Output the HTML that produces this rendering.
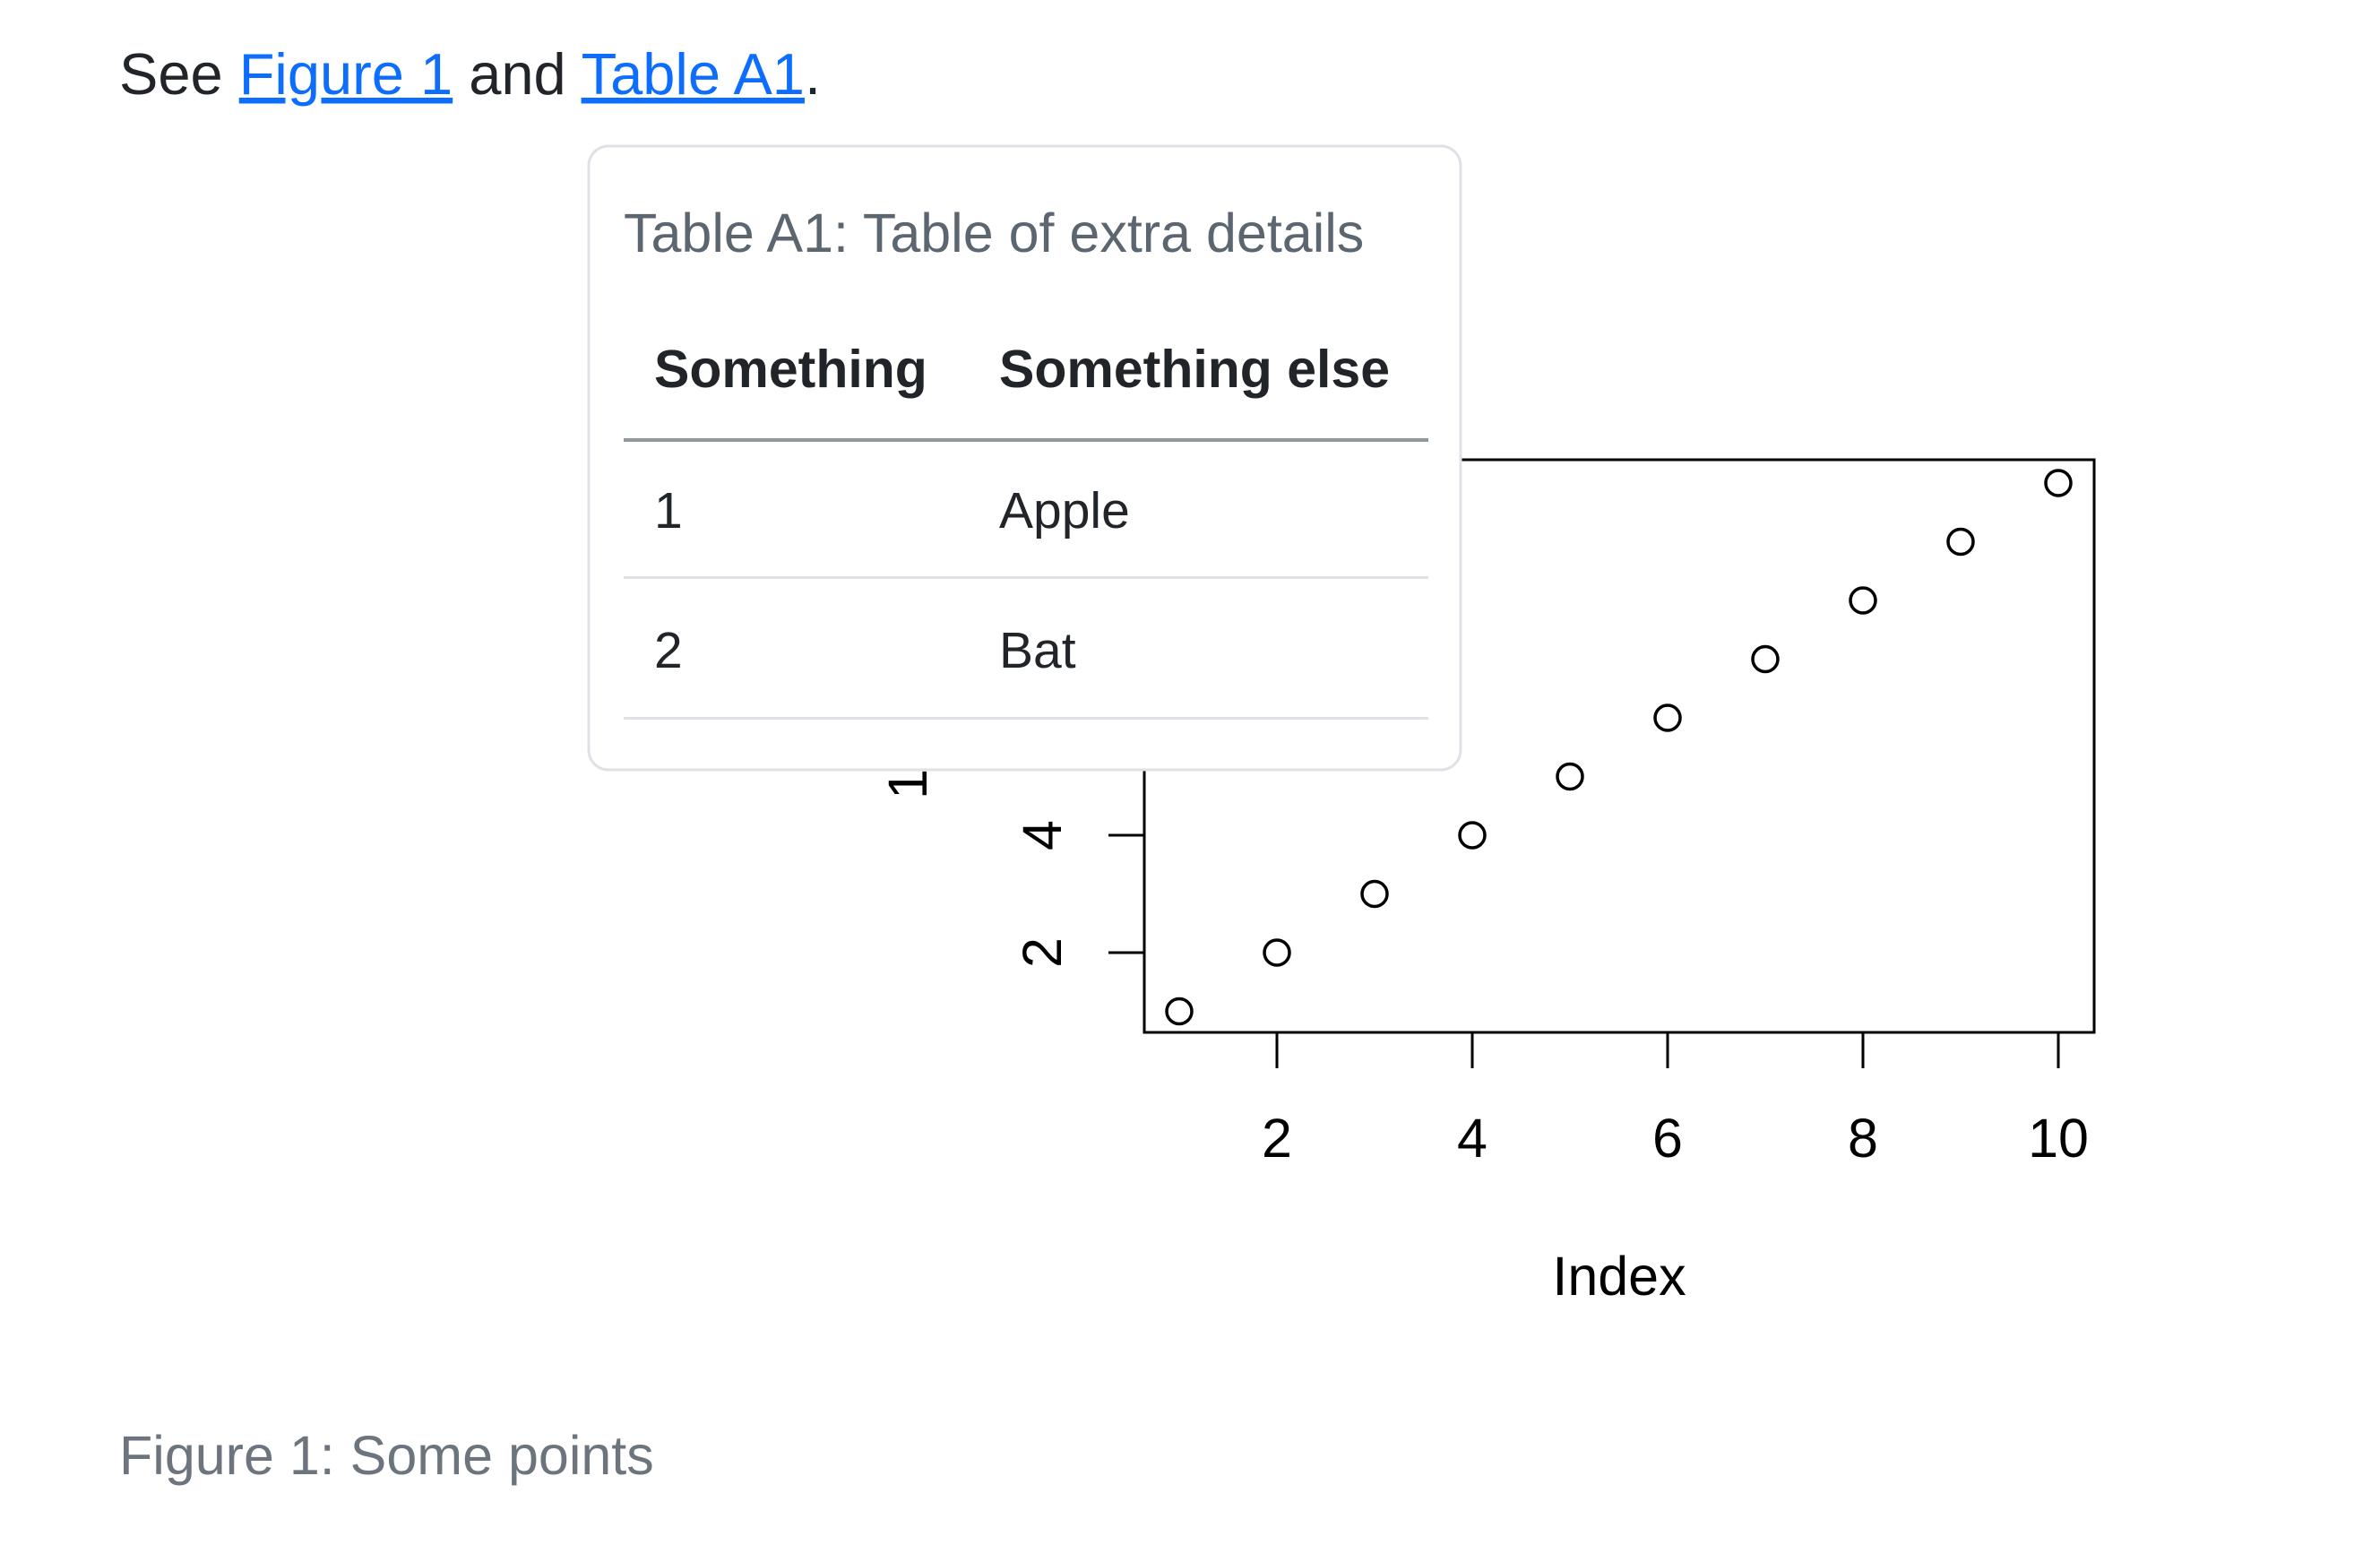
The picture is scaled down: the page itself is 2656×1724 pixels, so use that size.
<!DOCTYPE html>
<html><head><meta charset="utf-8"><style>
html,body{margin:0;padding:0;background:#fff;}
svg{display:block;}
text{font-family:"Liberation Sans",Arial,sans-serif;}
</style></head><body>
<svg id="root" width="2656" height="1724" viewBox="0 0 2656 1724">
 <g>
  <text x="133" y="105" font-size="65" fill="#212529"><tspan>See </tspan><tspan fill="#0d6efd" text-decoration="underline">Figure 1</tspan><tspan> and </tspan><tspan fill="#0d6efd" text-decoration="underline">Table A1</tspan><tspan>.</tspan></text>
 </g>
 <g id="chart"></g>
 <text x="133" y="1645" font-size="61" fill="#6c757d">Figure 1: Some points</text>
 <g>
  <rect x="657" y="163" width="973" height="696" rx="22" fill="#fff" stroke="#dee2e6" stroke-width="3"/>
  <text x="696" y="281" font-size="61" fill="#5c6670">Table A1: Table of extra details</text>
  <text x="730" y="432" font-size="59" font-weight="bold" fill="#212529">Something</text>
  <text x="1115" y="432" font-size="59" font-weight="bold" fill="#212529">Something else</text>
  <rect x="696" y="489" width="898" height="4" fill="#8f979f"/>
  <text x="730" y="589" font-size="57" fill="#212529">1</text>
  <text x="1115" y="589" font-size="57" fill="#212529">Apple</text>
  <rect x="696" y="643" width="898" height="3" fill="#dee2e6"/>
  <text x="730" y="745" font-size="57" fill="#212529">2</text>
  <text x="1115" y="745" font-size="57" fill="#212529">Bat</text>
  <rect x="696" y="800" width="898" height="3" fill="#dee2e6"/>
 </g>
</svg>
<script>
const xValues=[1,2,3,4,5,6,7,8,9,10];
const yValues=[1,2,3,4,5,6,7,8,9,10];
const xTicks=[2,4,6,8,10];
const yTicks=[2,4,6,8,10];
const NS='http://www.w3.org/2000/svg';
const g=document.getElementById('chart');
const L=1277,R=2337,T=513,B=1152;
function sx(v){return 1316+(v-1)*109.0;}
function sy(v){return 1128.5-(v-1)*65.5;}
function mk(t,a){const e=document.createElementNS(NS,t);for(const k in a)e.setAttribute(k,a[k]);g.appendChild(e);return e;}
let e=mk('rect',{x:L,y:T,width:R-L,height:B-T,fill:'none',stroke:'#000','stroke-width':3});


xTicks.forEach(v=>{
 let t=mk('line',{x1:sx(v),x2:sx(v),y1:B,y2:B+40,stroke:'#000','stroke-width':3});
 
 
 let l=mk('text',{x:sx(v),y:1291,'font-size':61,'text-anchor':'middle',fill:'#000'});
 l.textContent=v;
 
 
});
yTicks.forEach(v=>{
 let t=mk('line',{x1:L-40,x2:L,y1:sy(v),y2:sy(v),stroke:'#000','stroke-width':3});
 
 
 let l=mk('text',{x:0,y:0,'font-size':61,'text-anchor':'middle',fill:'#000',transform:'translate(1184,'+sy(v)+') rotate(-90)'});
 l.textContent=v;
 
 
});
xValues.forEach((xv,i)=>{
 let c=mk('circle',{cx:sx(xv),cy:sy(yValues[i]),r:14,fill:'none',stroke:'#000','stroke-width':3.5});
 
 
});
let xt=mk('text',{x:(L+R)/2,y:1445,'font-size':61,'text-anchor':'middle',fill:'#000'});
xt.textContent='Index';


let yt=mk('text',{x:0,y:0,'font-size':61,'text-anchor':'middle',fill:'#000',transform:'translate(1034,'+((T+B)/2)+') rotate(-90)'});
yt.textContent='1:10';


</script>
</body></html>
